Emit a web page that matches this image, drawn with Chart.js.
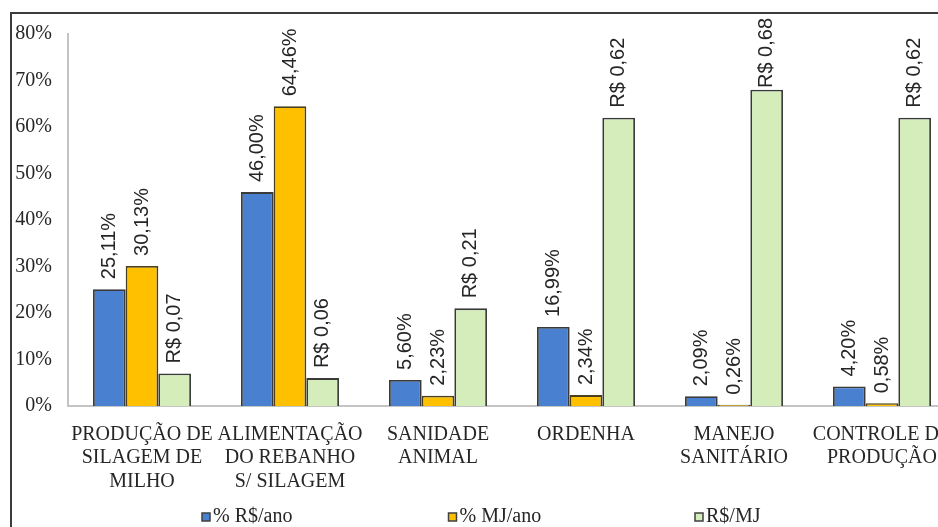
<!DOCTYPE html>
<html>
<head>
<meta charset="utf-8">
<script src="https://cdn.jsdelivr.net/npm/chart.js@4"></script>
<style>
    html, body { margin: 0; padding: 0; background: #fff; overflow: hidden; }
    #wrap { position: relative; width: 990px; height: 527px; }
    #frame { position: absolute; left: 10px; top: 12px; width: 1000px; height: 600px; border: 2px solid #3c3c3c; pointer-events: none; }
</style>
</head>
<body>
<div id="wrap">
    <canvas id="custos" width="990" height="527"></canvas>
    <div id="frame"></div>
</div>
<script>
const categorias = [
    ['PRODUÇÃO DE', 'SILAGEM DE', 'MILHO'],
    ['ALIMENTAÇÃO', 'DO REBANHO', 'S/ SILAGEM'],
    ['SANIDADE', 'ANIMAL'],
    ['ORDENHA'],
    ['MANEJO', 'SANITÁRIO'],
    ['CONTROLE DE', 'PRODUÇÃO']
];
const pctRsAno = [25.11, 46.00, 5.60, 16.99, 2.09, 4.20];
const pctMjAno = [30.13, 64.46, 2.23, 2.34, 0.26, 0.58];
const rsPorMj = [0.07, 0.06, 0.21, 0.62, 0.68, 0.62];
const ticksY = [0, 10, 20, 30, 40, 50, 60, 70, 80];

const serif = 'Liberation Serif';
const virgula = (v) => v.toFixed(2).replace('.', ',');

// rótulos verticais em cima das barras
const rotulos = {
    id: 'rotulos',
    afterDatasetsDraw(chart) {
        const ctx = chart.ctx;
        ctx.save();
        ctx.font = '20px "Liberation Sans"';
        ctx.fillStyle = '#262626';
        ctx.textAlign = 'left';
        ctx.textBaseline = 'middle';
        chart.data.datasets.forEach((ds, i) => {
            chart.getDatasetMeta(i).data.forEach((bar, j) => {
                const txt = i === 2 ? 'R$ ' + virgula(rsPorMj[j]) : virgula(ds.data[j]) + '%';
                const w = ctx.measureText(txt).width;
                let start = bar.y - 10;
                if (start - w < 18) start = 18 + w;
                ctx.save();
                ctx.translate(bar.x, start);
                ctx.rotate(-Math.PI / 2);
                ctx.fillText(txt, 0, 0);
                ctx.restore();
            });
        });
        ctx.restore();
    }
};

// legenda espaçada como no original
const legenda = {
    id: 'legenda',
    afterDraw(chart) {
        const ctx = chart.ctx;
        const y = 517;
        ctx.save();
        ctx.font = '20px "' + serif + '"';
        ctx.textBaseline = 'middle';
        chart.data.datasets.forEach((ds, i) => {
            const x = chart.chartArea.left + 134 + i * 246.5;
            ctx.fillStyle = ds.backgroundColor;
            ctx.fillRect(x, y - 4, 8, 8);
            ctx.strokeStyle = '#404040';
            ctx.lineWidth = 1.5;
            ctx.strokeRect(x, y - 4, 8, 8);
            ctx.fillStyle = '#262626';
            ctx.fillText(ds.label, x + 11, y);
        });
        ctx.restore();
    }
};

const custos = document.getElementById('custos');

new Chart(custos, {
    type: 'bar',
    data: {
        labels: categorias,
        datasets: [
            {
                label: '% R$/ano',
                data: pctRsAno,
                backgroundColor: '#4a80d0',
                borderColor: '#3a3a3a',
                borderWidth: 1.8
            },
            {
                label: '% MJ/ano',
                data: pctMjAno,
                backgroundColor: '#ffc000',
                borderColor: '#4a4020',
                borderWidth: 1.8
            },
            {
                label: 'R$/MJ',
                data: rsPorMj.map(v => v * 100),
                backgroundColor: '#d5ecbb',
                borderColor: '#3a3a3a',
                borderWidth: 1.8
            }
        ]
    },
    options: {
        responsive: false,
        animation: false,
        categoryPercentage: 0.662,
        barPercentage: 1.0,
        layout: {
            padding: { top: 34, right: 34, left: 0, bottom: 0 }
        },
        scales: {
            x: {
                grid: { display: false },
                border: { display: true, color: '#c4c4c4', width: 2 },
                ticks: {
                    autoSkip: false,
                    maxRotation: 0,
                    padding: 9,
                    color: '#262626',
                    font: { family: serif, size: 20, lineHeight: 1.17 }
                },
                afterFit(scale) { scale.height = 121; }
            },
            y: {
                min: 0,
                max: 80,
                grid: { display: false, drawTicks: false },
                border: { display: true, color: '#c4c4c4', width: 2 },
                afterBuildTicks(scale) { scale.ticks = ticksY.map(v => ({ value: v })); },
                ticks: {
                    padding: 16,
                    color: '#262626',
                    font: { family: serif, size: 20 },
                    callback: (v) => v + '%'
                },
                afterFit(scale) { scale.width = 68; }
            }
        },
        plugins: {
            legend: { display: false },
            tooltip: { enabled: false }
        }
    },
    plugins: [rotulos, legenda]
});
</script>
</body>
</html>
